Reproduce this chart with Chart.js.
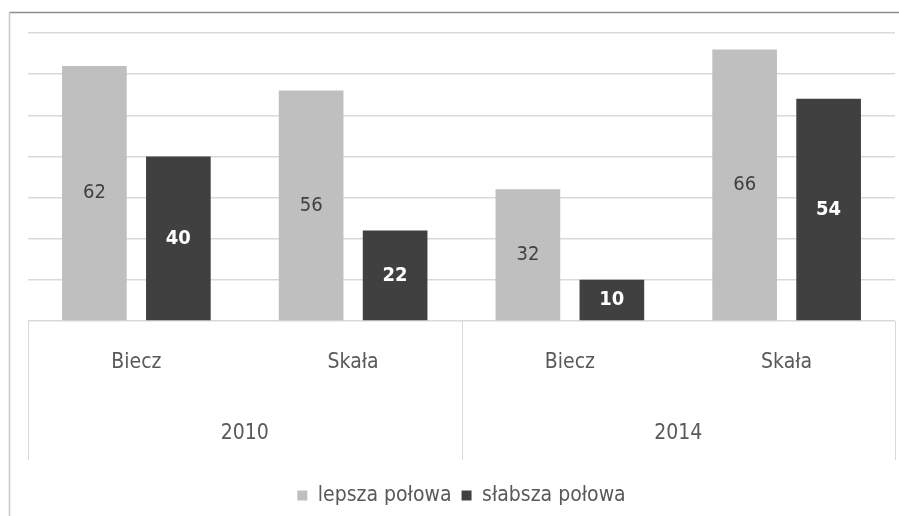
<!DOCTYPE html>
<html lang="pl">
	<head>
		<meta charset="UTF-8" />
		<script src="https://cdn.jsdelivr.net/npm/chart.js@4.4.1/dist/chart.umd.min.js"></script>
		<title>Biecz i Skała</title>
		<style>
			html, body { margin: 0; padding: 0; background: #fff; }
			#wrap { width: 899px; height: 516px; }
		</style>
	</head>

	<body>
		<div id="wrap"><canvas id="myChart" width="899" height="516"></canvas></div>
		<script>
			// kategorie i wartości
			const towns = ['Biecz', 'Skała', 'Biecz', 'Skała'];
			const years = ['2010', '2014'];
			const lepsza = [62, 56, 32, 66];
			const slabsza = [40, 22, 10, 54];
			const yTicks = [0, 10, 20, 30, 40, 50, 60, 70];

			const FONT = "'Liberation Sans Narrow', 'DejaVu Sans Condensed', 'Liberation Sans', sans-serif";

			// ramka wykresu (jak w Excelu)
			const frame = {
				id: 'frame',
				beforeDraw(chart) {
					const c = chart.ctx;
					c.save();
					c.fillStyle = '#fff';
					c.fillRect(0, 0, chart.width, chart.height);
					c.lineWidth = 1.5;
					c.strokeStyle = '#8c8c8c';
					c.beginPath();
					c.moveTo(9, 12.5);
					c.lineTo(chart.width, 12.5);
					c.stroke();
					c.strokeStyle = '#c8c8c8';
					c.beginPath();
					c.moveTo(9.5, 12);
					c.lineTo(9.5, chart.height);
					c.stroke();
					c.restore();
				}
			};

			// etykiety wartości w środku słupków
			const barLabels = {
				id: 'barLabels',
				afterDatasetsDraw(chart) {
					const c = chart.ctx;
					c.save();
					c.textAlign = 'center';
					c.textBaseline = 'middle';
					chart.data.datasets.forEach((ds, i) => {
						const meta = chart.getDatasetMeta(i);
						c.fillStyle = i === 0 ? '#404040' : '#ffffff';
						c.font = (i === 0 ? '' : 'bold ') + '20px ' + FONT;
						meta.data.forEach((bar, j) => {
							const p = bar.getProps(['x', 'y', 'base'], true);
							c.fillText(ds.data[j], p.x, (p.y + p.base) / 2);
						});
					});
					c.restore();
				}
			};

			// pionowe linie oddzielające lata na osi
			const yearSeparators = {
				id: 'yearSeparators',
				afterDraw(chart) {
					const xs = chart.scales.x;
					const c = chart.ctx;
					const mid = (xs.getPixelForValue(1) + xs.getPixelForValue(2)) / 2;
					const end = chart.scales.x2.bottom - 15;
					c.save();
					c.strokeStyle = '#d9d9d9';
					c.lineWidth = 1;
					[xs.left, mid, xs.right].forEach(px => {
						c.beginPath();
						c.moveTo(Math.round(px) + 0.5, chart.chartArea.bottom);
						c.lineTo(Math.round(px) + 0.5, end);
						c.stroke();
					});
					c.restore();
				}
			};

			const ctx = document.getElementById('myChart').getContext('2d');
			const myChart = new Chart(ctx, {
				type: 'bar',
				data: {
					labels: towns,
					datasets: [
						{
							label: 'lepsza połowa',
							data: lepsza,
							backgroundColor: '#bfbfbf',
							barPercentage: 0.77,
							categoryPercentage: 0.775
						},
						{
							label: 'słabsza połowa',
							data: slabsza,
							backgroundColor: '#404040',
							barPercentage: 0.77,
							categoryPercentage: 0.775
						}
					]
				},
				options: {
					responsive: false,
					animation: false,
					layout: { padding: { top: 33, left: 28, right: 4, bottom: 0 } },
					plugins: {
						legend: {
							position: 'bottom',
							labels: {
								boxWidth: 10,
								boxHeight: 10,
								color: '#595959',
								padding: 10,
								font: { family: FONT, size: 21 }
							}
						},
						tooltip: { enabled: false }
					},
					scales: {
						x: {
							grid: { display: false, drawTicks: false },
							border: { display: false },
							ticks: { color: '#595959', padding: 29, font: { family: FONT, size: 21 } },
							afterFit(s) { s.height = 60; }
						},
						x2: {
							type: 'category',
							labels: years,
							position: 'bottom',
							offset: true,
							grid: { display: false, drawTicks: false },
							border: { display: false },
							ticks: { color: '#595959', padding: 40, font: { family: FONT, size: 21 } },
							afterFit(s) { s.height = 94; }
						},
						y: {
							min: 0,
							max: 70,
							afterBuildTicks(s) { s.ticks = yTicks.map(v => ({ value: v })); },
							ticks: { display: false },
							grid: { color: '#d9d9d9', lineWidth: 1.5, drawTicks: false },
							border: { display: false },
							afterFit(s) { s.width = 0; }
						}
					}
				},
				plugins: [frame, barLabels, yearSeparators]
			});
		</script>
	</body>
</html>
